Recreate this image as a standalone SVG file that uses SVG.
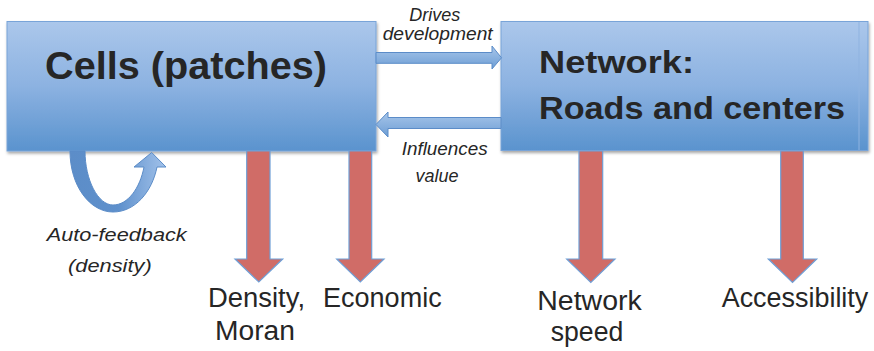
<svg xmlns="http://www.w3.org/2000/svg" width="874" height="351" viewBox="0 0 874 351">
<defs>
<linearGradient id="boxGrad" x1="0" y1="0" x2="0" y2="1">
<stop offset="0" stop-color="#abc7eb"/>
<stop offset="0.5" stop-color="#8cb2e1"/>
<stop offset="1" stop-color="#5a93ce"/>
</linearGradient>
<linearGradient id="hArrowGrad" x1="0" y1="0" x2="0" y2="1">
<stop offset="0" stop-color="#a8c6ea"/>
<stop offset="1" stop-color="#6c9dd4"/>
</linearGradient>
<linearGradient id="loopGrad" x1="0" y1="0" x2="1" y2="0">
<stop offset="0" stop-color="#5c8dc8"/>
<stop offset="0.5" stop-color="#5e90cc"/>
<stop offset="1" stop-color="#a2c2ea"/>
</linearGradient>
<filter id="shadow" x="-5%" y="-5%" width="110%" height="120%">
<feDropShadow dx="1" dy="2" stdDeviation="1.5" flood-color="#000" flood-opacity="0.35"/>
</filter>
<style>
.box{fill:url(#boxGrad);stroke:#79a4d8;stroke-width:1;filter:url(#shadow);}
.boxText{font-family:"Liberation Sans",Arial,sans-serif;font-weight:bold;fill:#262626;}
.hArrow{fill:url(#hArrowGrad);stroke:#5b8cc8;stroke-width:1;}
.redArrow{fill:#d06c67;stroke:#6f9fd6;stroke-width:1.2;}
.loop{fill:url(#loopGrad);stroke:#5b8cc8;stroke-width:1;}
.lbl{font-family:"Liberation Sans",Arial,sans-serif;font-style:italic;font-size:18px;fill:#262626;}
.out{font-family:"Liberation Sans",Arial,sans-serif;font-size:27px;fill:#262626;}
</style>
</defs>
<rect width="874" height="351" fill="#ffffff"/>
<g id="node-cells">
<rect class="box" x="7" y="21.5" width="369" height="129.5"/>
<text class="boxText" x="45" y="79" font-size="38" textLength="282" lengthAdjust="spacingAndGlyphs">Cells (patches)</text>
</g>
<g id="node-network">
<rect class="box" x="501" y="21.5" width="367" height="129"/>
<line x1="859" y1="22" x2="859" y2="150" stroke="#8fb3e0" stroke-width="1"/>
<text class="boxText" x="539" y="72.7" font-size="32" textLength="155" lengthAdjust="spacingAndGlyphs">Network:</text>
<text class="boxText" x="539" y="119" font-size="32" textLength="306" lengthAdjust="spacingAndGlyphs">Roads and centers</text>
</g>
<g id="connectors">
<path id="edge-drives" class="hArrow" d="M376,52.5 L492,52.5 L492,46 L501.5,57.8 L492,69 L492,63.3 L376,63.3 Z"/>
<path id="edge-influences" class="hArrow" d="M501,117.5 L388,117.5 L388,112 L376,124.5 L388,137 L388,128.5 L501,128.5 Z"/>
<path id="edge-autofeedback" class="loop" d="M70,151 C70,186 90,212 113,212 C135,212 152,192 157,167 L166,167 L151.7,152.5 L134,167 L144,167 C140,188 128,205 113,205 C98,205 85,180 85,151 Z"/>
<path id="edge-density" class="redArrow" d="M246.7,151 L246.7,259 L235,259 L258.8,282 L282.7,259 L270,259 L270,151 Z"/>
<path id="edge-economic" class="redArrow" d="M349,151 L349,259 L336.7,259 L360.3,282 L384,259 L371.7,259 L371.7,151 Z"/>
<path id="edge-speed" class="redArrow" d="M579,151 L579,259 L566.7,259 L590.8,282.5 L615,259 L602.7,259 L602.7,151 Z"/>
<path id="edge-access" class="redArrow" d="M780.7,151 L780.7,259 L768.3,259 L792.5,282.5 L816.7,259 L803.3,259 L803.3,151 Z"/>
</g>
<g id="edge-labels">
<text class="lbl" x="434.7" y="21.3" text-anchor="middle">Drives</text>
<text class="lbl" x="382.7" y="40" textLength="110" lengthAdjust="spacingAndGlyphs">development</text>
<text class="lbl" x="401.7" y="155" textLength="86" lengthAdjust="spacingAndGlyphs">Influences</text>
<text class="lbl" x="437" y="181.5" text-anchor="middle">value</text>
<text class="lbl" x="46.7" y="241" font-size="19" textLength="140" lengthAdjust="spacingAndGlyphs">Auto-feedback</text>
<text class="lbl" x="68" y="271.7" font-size="19" textLength="83.7" lengthAdjust="spacingAndGlyphs">(density)</text>
</g>
<g id="outputs">
<g id="out-density">
<text class="out" x="208" y="306.7" textLength="97" lengthAdjust="spacingAndGlyphs">Density,</text>
<text class="out" x="215" y="340" textLength="80" lengthAdjust="spacingAndGlyphs">Moran</text>
</g>
<g id="out-economic">
<text class="out" x="323" y="306.7" textLength="118.7" lengthAdjust="spacingAndGlyphs">Economic</text>
</g>
<g id="out-speed">
<text class="out" x="537.3" y="310" textLength="104.4" lengthAdjust="spacingAndGlyphs">Network</text>
<text class="out" x="550.7" y="341" textLength="72.6" lengthAdjust="spacingAndGlyphs">speed</text>
</g>
<g id="out-access">
<text class="out" x="721.7" y="307" textLength="146.6" lengthAdjust="spacingAndGlyphs">Accessibility</text>
</g>
</g>
</svg>
